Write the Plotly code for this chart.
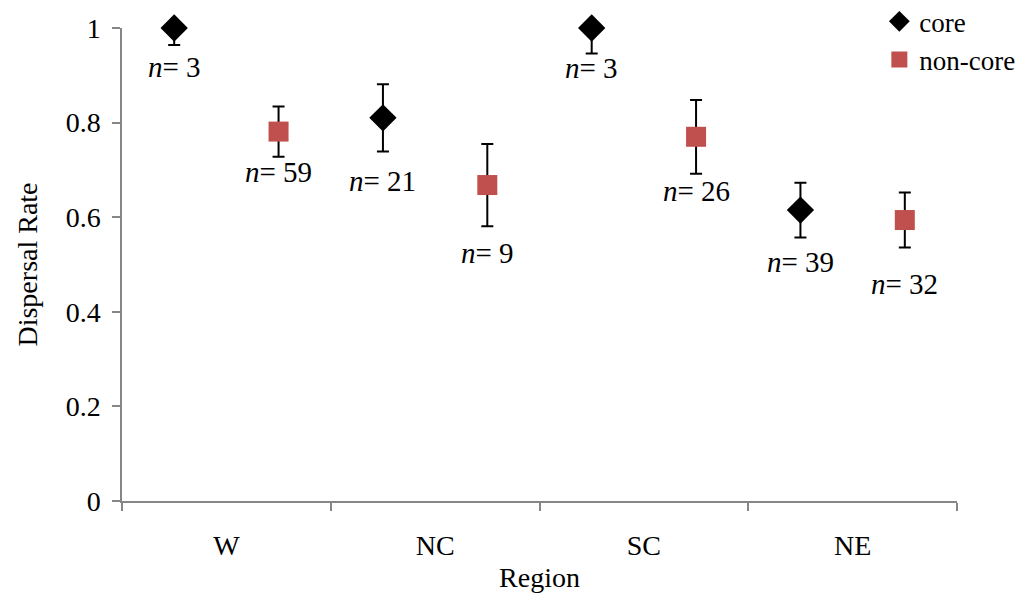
import plotly.graph_objects as go

regions = ["W", "NC", "SC", "NE"]
core_rate = [1.0, 0.810, 1.0, 0.615]
core_err_plus = [0.0, 0.071, 0.0, 0.058]
core_err_minus = [0.036, 0.071, 0.054, 0.058]
core_n = [3, 21, 3, 39]
noncore_rate = [0.781, 0.668, 0.770, 0.594]
noncore_err = [0.053, 0.087, 0.078, 0.058]
noncore_n = [59, 9, 26, 32]
y_ticks = [0, 0.2, 0.4, 0.6, 0.8, 1]
y_tick_labels = ["0", "0.2", "0.4", "0.6", "0.8", "1"]

FONT = "Liberation Serif"
FS = 28
ANN_FS = 29
idx = list(range(len(regions)))
core_x = [i - 0.25 for i in idx]
non_x = [i + 0.25 for i in idx]

fig = go.Figure()
fig.add_trace(go.Scatter(
    x=core_x, y=core_rate, mode="markers", name="core",
    marker=dict(symbol="diamond", size=21, color="black"),
    error_y=dict(type="data", symmetric=False, array=core_err_plus, arrayminus=core_err_minus,
                 color="black", thickness=2, width=6),
    cliponaxis=False,
))
fig.add_trace(go.Scatter(
    x=non_x, y=noncore_rate, mode="markers", name="non-core",
    marker=dict(symbol="square", size=20, color="#C0504D"),
    error_y=dict(type="data", array=noncore_err, color="black", thickness=2, width=6),
    cliponaxis=False,
))

# label offsets (px) below the lower error cap
core_shift = [-4, -12, 4, -6]
non_shift = [3, -9, 1, -19]
for x, y, e, n, s in zip(core_x, core_rate, core_err_minus, core_n, core_shift):
    fig.add_annotation(x=x, y=y - e, text=f"<i>n</i>= {n}", showarrow=False,
                       yanchor="top", yshift=s, font=dict(family=FONT, size=ANN_FS, color="black"))
for x, y, e, n, s in zip(non_x, noncore_rate, noncore_err, noncore_n, non_shift):
    fig.add_annotation(x=x, y=y - e, text=f"<i>n</i>= {n}", showarrow=False,
                       yanchor="top", yshift=s, font=dict(family=FONT, size=ANN_FS, color="black"))

fig.update_layout(
    width=1028, height=594,
    margin=dict(l=122, r=71, t=28, b=93, autoexpand=False),
    paper_bgcolor="white", plot_bgcolor="white",
    font=dict(family=FONT, size=FS, color="black"),
    showlegend=True,
    legend=dict(x=0.907, y=1.065, xanchor="left", yanchor="top",
                font=dict(family=FONT, size=27, color="black"),
                bgcolor="rgba(0,0,0,0)", itemwidth=30, tracegroupgap=2),
    xaxis=dict(
        range=[-0.5, 3.5], tickvals=idx, ticktext=regions, ticks="",
        showline=True, linecolor="#868686", linewidth=1.5, showgrid=False, zeroline=False,
        minor=dict(tick0=-0.5, dtick=1, ticks="outside", ticklen=8, tickcolor="#868686", tickwidth=1.5, showgrid=False),
        title=dict(text="Region", standoff=7, font=dict(family=FONT, size=28)),
        ticklabelstandoff=19, tickfont=dict(family=FONT, size=FS),
    ),
    yaxis=dict(
        range=[0, 1], tickvals=y_ticks, ticktext=y_tick_labels,
        ticks="outside", ticklen=8, tickcolor="#868686", tickwidth=1.5,
        showline=True, linecolor="#868686", linewidth=1.5, showgrid=False, zeroline=False,
        title=dict(text="Dispersal Rate", standoff=20, font=dict(family=FONT, size=28)),
        ticklabelstandoff=6, tickfont=dict(family=FONT, size=FS),
    ),
)

fig.write_html("out.html")
